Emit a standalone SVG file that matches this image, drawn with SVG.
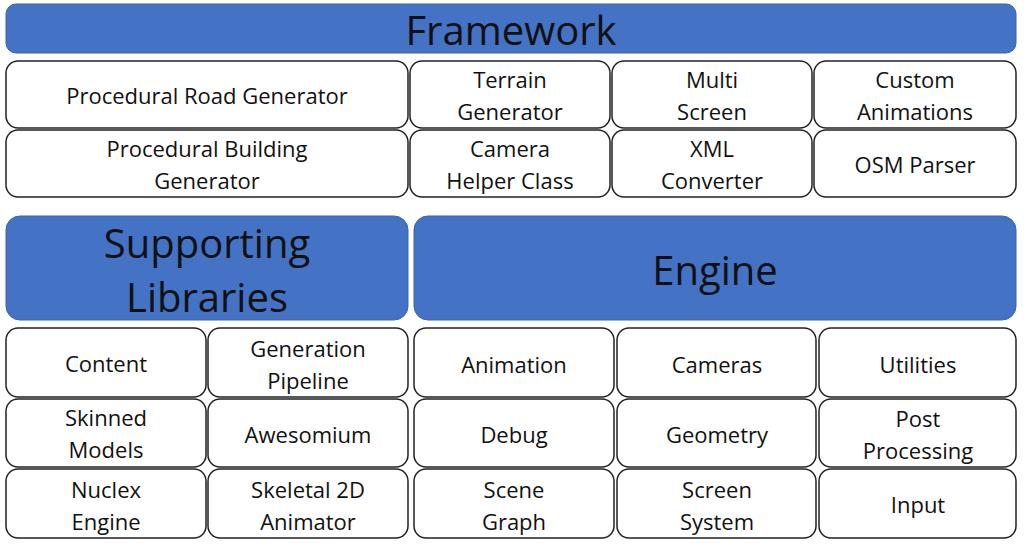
<svg xmlns="http://www.w3.org/2000/svg" width="1024" height="545" viewBox="0 0 1024 545">
<style>
.h{fill:#4472C4;stroke:#3a64b0;stroke-width:1}
.b{fill:#fff;stroke:#222;stroke-width:1.5}
text{font-family:"Open Sans","DejaVu Sans",sans-serif;fill:#111;text-anchor:middle;dominant-baseline:central}
.t{font-size:22px}
.T{font-size:40px}
</style>
<rect width="1024" height="545" fill="#fff"/>
<g id="framework"><rect class="h" x="6" y="4" width="1010" height="49" rx="10"/><text class="T" x="511" y="29">Framework</text></g>
<g id="road"><rect class="b" x="6" y="61" width="402" height="67" rx="12"/><text class="t" x="207" y="95">Procedural Road Generator</text></g>
<g id="terrain"><rect class="b" x="410" y="61" width="200" height="67" rx="12"/><text class="t" x="510" y="79">Terrain</text><text class="t" x="510" y="111">Generator</text></g>
<g id="multi"><rect class="b" x="612" y="61" width="200" height="67" rx="12"/><text class="t" x="712" y="79">Multi</text><text class="t" x="712" y="111">Screen</text></g>
<g id="custom"><rect class="b" x="814" y="61" width="202" height="67" rx="12"/><text class="t" x="915" y="79">Custom</text><text class="t" x="915" y="111">Animations</text></g>
<g id="building"><rect class="b" x="6" y="130" width="402" height="67" rx="12"/><text class="t" x="207" y="148">Procedural Building</text><text class="t" x="207" y="180">Generator</text></g>
<g id="camera"><rect class="b" x="410" y="130" width="200" height="67" rx="12"/><text class="t" x="510" y="148">Camera</text><text class="t" x="510" y="180">Helper Class</text></g>
<g id="xml"><rect class="b" x="612" y="130" width="200" height="67" rx="12"/><text class="t" x="712" y="148">XML</text><text class="t" x="712" y="180">Converter</text></g>
<g id="osm"><rect class="b" x="814" y="130" width="202" height="67" rx="12"/><text class="t" x="915" y="164">OSM Parser</text></g>
<g id="supporting"><rect class="h" x="6" y="216" width="402" height="104" rx="14"/><text class="T" x="207" y="242">Supporting</text><text class="T" x="207" y="296">Libraries</text></g>
<g id="engine"><rect class="h" x="414" y="216" width="602" height="104" rx="14"/><text class="T" x="715" y="269">Engine</text></g>
<g id="content"><rect class="b" x="6" y="328" width="200" height="69" rx="12"/><text class="t" x="106" y="363">Content</text></g>
<g id="pipeline"><rect class="b" x="208" y="328" width="200" height="69" rx="12"/><text class="t" x="308" y="348">Generation</text><text class="t" x="308" y="380">Pipeline</text></g>
<g id="skinned"><rect class="b" x="6" y="399" width="200" height="68" rx="12"/><text class="t" x="106" y="417">Skinned</text><text class="t" x="106" y="449">Models</text></g>
<g id="awesomium"><rect class="b" x="208" y="399" width="200" height="68" rx="12"/><text class="t" x="308" y="434">Awesomium</text></g>
<g id="nuclex"><rect class="b" x="6" y="469" width="200" height="69" rx="12"/><text class="t" x="106" y="489">Nuclex</text><text class="t" x="106" y="521">Engine</text></g>
<g id="skeletal"><rect class="b" x="208" y="469" width="200" height="69" rx="12"/><text class="t" x="308" y="489">Skeletal 2D</text><text class="t" x="308" y="521">Animator</text></g>
<g id="animation"><rect class="b" x="414" y="328" width="200" height="69" rx="12"/><text class="t" x="514" y="364">Animation</text></g>
<g id="cameras"><rect class="b" x="617" y="328" width="199" height="69" rx="12"/><text class="t" x="717" y="364">Cameras</text></g>
<g id="utilities"><rect class="b" x="819" y="328" width="197" height="69" rx="12"/><text class="t" x="918" y="364">Utilities</text></g>
<g id="debug"><rect class="b" x="414" y="399" width="200" height="68" rx="12"/><text class="t" x="514" y="434">Debug</text></g>
<g id="geometry"><rect class="b" x="617" y="399" width="199" height="68" rx="12"/><text class="t" x="717" y="434">Geometry</text></g>
<g id="post"><rect class="b" x="819" y="399" width="197" height="68" rx="12"/><text class="t" x="918" y="418">Post</text><text class="t" x="918" y="450">Processing</text></g>
<g id="scene"><rect class="b" x="414" y="469" width="200" height="69" rx="12"/><text class="t" x="514" y="489">Scene</text><text class="t" x="514" y="521">Graph</text></g>
<g id="screen"><rect class="b" x="617" y="469" width="199" height="69" rx="12"/><text class="t" x="717" y="489">Screen</text><text class="t" x="717" y="521">System</text></g>
<g id="input"><rect class="b" x="819" y="469" width="197" height="69" rx="12"/><text class="t" x="918" y="504">Input</text></g>
<g id="connectors"/>
</svg>
